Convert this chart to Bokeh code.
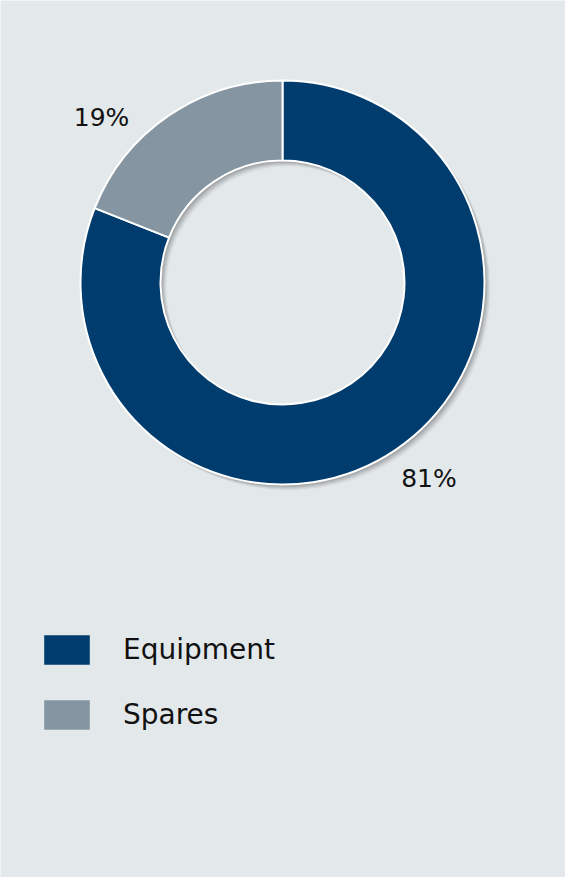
import math
from bokeh.plotting import figure
from bokeh.models import ColumnDataSource, Legend, LegendItem
from bokeh.core.properties import value
from bokeh.embed import file_html
from bokeh.resources import INLINE

# ---- data ----
categories = ["Equipment", "Spares"]
shares = [81, 19]
colors = ["#003d6e", "#8596a2"]
labels = [f"{v}%" for v in shares]

# ---- layout ----
W, H = 565, 877
BG = "#e3e8eb"
CX, CY = 282, 595
R_OUT, R_IN = 202, 122
LABEL_R = 245
LABEL_NUDGE_DEG = [2.5, 13.4]
FONT = "DejaVu Sans"

total = sum(shares)
starts, ends, lx, ly = [], [], [], []
acc = 0.0
for i, v in enumerate(shares):
    a0 = math.pi / 2 - 2 * math.pi * acc / total
    acc += v
    a1 = math.pi / 2 - 2 * math.pi * acc / total
    starts.append(a0)
    ends.append(a1)
    mid = (a0 + a1) / 2 + math.radians(LABEL_NUDGE_DEG[i])
    lx.append(CX + LABEL_R * math.cos(mid))
    ly.append(CY + LABEL_R * math.sin(mid))

src = ColumnDataSource(dict(cat=categories, start=starts, end=ends, color=colors,
                            lx=lx, ly=ly, label=labels))

p = figure(width=W, height=H, x_range=(0, W), y_range=(0, H),
           x_axis_type=None, y_axis_type=None, toolbar_location=None,
           output_backend="svg", min_border=0)
p.background_fill_color = BG
p.border_fill_color = BG
p.outline_line_color = None
p.grid.visible = False

# soft drop shadow (down-right)
for k, a in [(1, 0.08), (2, 0.08), (3, 0.07), (4, 0.06), (5, 0.05), (6, 0.03)]:
    p.annulus(x=CX + k, y=CY - k, inner_radius=R_IN, outer_radius=R_OUT,
              fill_color="black", fill_alpha=a, line_color=None)

p.annular_wedge(x=CX, y=CY, inner_radius=R_IN, outer_radius=R_OUT,
                start_angle="start", end_angle="end", direction="clock",
                fill_color="color", line_color="white", line_width=2, source=src)

p.text(x="lx", y="ly", text="label", source=src, text_align="center",
       text_baseline="middle", text_font=value(FONT), text_font_size="25px",
       text_color="#111111")

# legend swatches: hidden borderless copy of the wedges, used only for the legend
leg_r = p.annular_wedge(x=CX, y=CY, inner_radius=R_IN, outer_radius=R_OUT,
                        start_angle="start", end_angle="end", direction="clock",
                        fill_color="color", line_color=None, source=src, visible=False)
items = [LegendItem(label=c, renderers=[leg_r], index=i) for i, c in enumerate(categories)]

legend = Legend(items=items, location=(38, 138), orientation="vertical",
                glyph_width=57, glyph_height=37, label_height=49, spacing=16,
                label_standoff=28, padding=0, margin=0,
                border_line_color=None, background_fill_alpha=0,
                label_text_font=FONT, label_text_font_size="28px",
                label_text_color="#111111", label_text_baseline="middle")
p.add_layout(legend, "center")

open("out.html", "w").write(file_html(p, INLINE))
